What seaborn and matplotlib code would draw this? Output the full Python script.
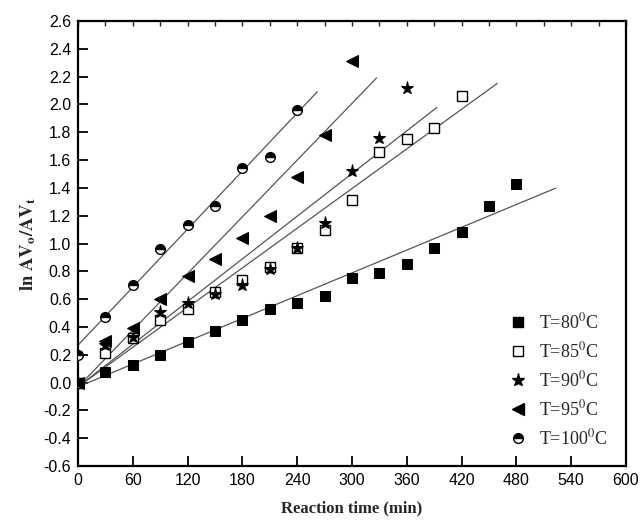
import numpy as np
import matplotlib
matplotlib.use("Agg")
import matplotlib.pyplot as plt
import seaborn as sns
from matplotlib.lines import Line2D

# ---------------- data ----------------
t80 = [0, 30, 60, 90, 120, 150, 180, 210, 240, 270, 300, 330, 360, 390, 420, 450, 480]
y80 = [0.00, 0.08, 0.13, 0.20, 0.29, 0.37, 0.45, 0.53, 0.57, 0.62, 0.75, 0.79, 0.85, 0.97, 1.08, 1.27, 1.43]

t85 = [0, 30, 60, 90, 120, 150, 180, 210, 240, 270, 300, 330, 360, 390, 420]
y85 = [0.00, 0.21, 0.32, 0.45, 0.53, 0.65, 0.74, 0.83, 0.97, 1.10, 1.31, 1.66, 1.75, 1.83, 2.06]

t90 = [0, 30, 60, 90, 120, 150, 180, 210, 240, 270, 300, 330, 360]
y90 = [0.00, 0.27, 0.33, 0.51, 0.57, 0.64, 0.70, 0.82, 0.97, 1.15, 1.52, 1.76, 2.12]

t95 = [0, 30, 60, 90, 120, 150, 180, 210, 240, 270, 300]
y95 = [0.00, 0.30, 0.39, 0.60, 0.77, 0.89, 1.04, 1.20, 1.48, 1.78, 2.31]

t100 = [0, 30, 60, 90, 120, 150, 180, 210, 240]
y100 = [0.20, 0.47, 0.70, 0.96, 1.13, 1.27, 1.54, 1.62, 1.96]

labels = [r"T=80$^{\mathrm{0}}$C", r"T=85$^{\mathrm{0}}$C", r"T=90$^{\mathrm{0}}$C",
          r"T=95$^{\mathrm{0}}$C", r"T=100$^{\mathrm{0}}$C"]

# fitted lines: intercept, slope, end time
fit_b = [-0.03, -0.03, -0.03, -0.03, 0.27]
fit_m = [0.00273, 0.00475, 0.00511, 0.00679, 0.00695]
fit_end = [523, 459, 393, 327, 262]

xticks = [0, 60, 120, 180, 240, 300, 360, 420, 480, 540, 600]
yticks = [-0.6, -0.4, -0.2, 0.0, 0.2, 0.4, 0.6, 0.8, 1.0, 1.2, 1.4, 1.6, 1.8, 2.0, 2.2, 2.4, 2.6]

# ---------------- style ----------------
sns.set_style("white")
plt.rcParams["font.family"] = ["Liberation Sans", "DejaVu Sans"]
plt.rcParams["mathtext.fontset"] = "stix"

fig = plt.figure(figsize=(6.4, 5.22), dpi=100)
ax = fig.add_axes([0.122, 0.107, 0.856, 0.853])

series = [(t80, y80), (t85, y85), (t90, y90), (t95, y95), (t100, y100)]
mstyles = [
    dict(marker="s", markersize=6.5, markerfacecolor="black", markeredgecolor="black"),
    dict(marker="s", markersize=6.5, markerfacecolor="white", markeredgecolor="black", markeredgewidth=1.0),
    dict(marker="*", markersize=9.5, markerfacecolor="black", markeredgecolor="black"),
    dict(marker="<", markersize=8, markerfacecolor="black", markeredgecolor="black"),
    dict(marker="o", markersize=7, fillstyle="top", markerfacecolor="black",
         markerfacecoloralt="white", markeredgecolor="black", markeredgewidth=1.0),
]

# fitted lines
for b, m, te in zip(fit_b, fit_m, fit_end):
    xs = np.array([0.0, te])
    sns.lineplot(x=xs, y=b + m * xs, ax=ax, color="#555555", linewidth=0.9,
                 estimator=None, errorbar=None, legend=False, zorder=2)

handles = []
for (tx, ty), st, lab in zip(series, mstyles, labels):
    sns.lineplot(x=tx, y=ty, ax=ax, linestyle="none", color="black",
                 estimator=None, errorbar=None, legend=False, zorder=3, **st)
    handles.append(Line2D([], [], linestyle="none", color="black", **st))

ax.set_xlim(0, 600)
ax.set_ylim(-0.6, 2.6)
ax.set_xticks(xticks)
ax.set_yticks(yticks)
ax.set_xticklabels([str(v) for v in xticks], fontsize=11.5)
ax.set_yticklabels([f"{v:.1f}" for v in yticks], fontsize=11.5)
ax.tick_params(axis="both", direction="in", length=7, width=1.3, colors="black",
               left=True, bottom=True, top=False, right=False, pad=5)

sec = ax.secondary_xaxis("top")
sec.set_xticks(np.arange(0, 601, 30))
sec.tick_params(direction="in", length=3.5, width=1.0, labeltop=False)

for sp in ax.spines.values():
    sp.set_linewidth(1.6)
    sp.set_color("black")
for sp in sec.spines.values():
    sp.set_visible(False)

ax.set_xlabel("Reaction time (min)", fontfamily="Liberation Serif", fontweight="bold",
              fontsize=12, labelpad=9)
ax.set_ylabel(r"$\mathbf{ln\ AV_{o}/AV_{t}}$", fontsize=13.5, labelpad=4)

leg = ax.legend(handles, labels, loc="lower right", frameon=False,
                prop={"family": "Liberation Serif", "size": 13},
                handletextpad=0.6, labelspacing=0.5, borderaxespad=0.6,
                handlelength=1.2)

fig.savefig("out.png", dpi=100)
